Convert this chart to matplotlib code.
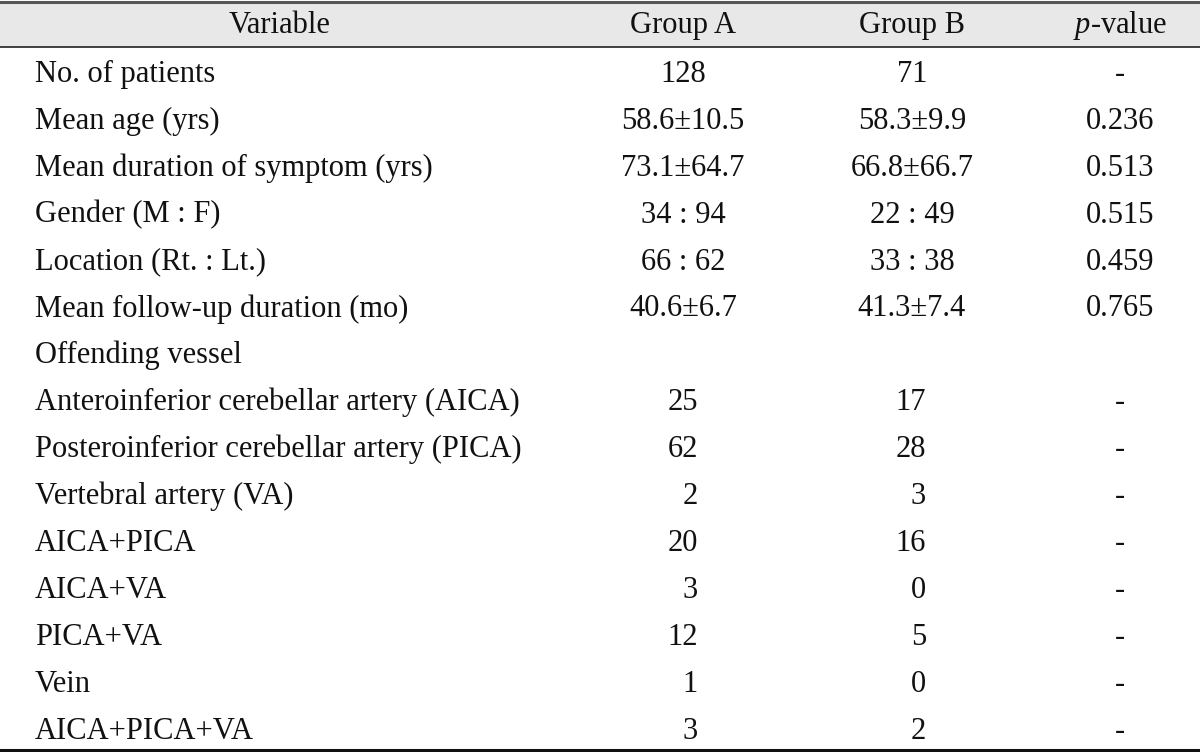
import matplotlib
matplotlib.use("Agg")
import matplotlib.pyplot as plt
from matplotlib.patches import Rectangle

header = ["Variable", "Group A", "Group B", "$p$-value"]
variables = ["No. of patients", "Mean age (yrs)", "Mean duration of symptom (yrs)",
             "Gender (M : F)", "Location (Rt. : Lt.)", "Mean follow-up duration (mo)",
             "Offending vessel",
             "Anteroinferior cerebellar artery (AICA)",
             "Posteroinferior cerebellar artery (PICA)",
             "Vertebral artery (VA)", "AICA+PICA", "AICA+VA", "PICA+VA", "Vein",
             "AICA+PICA+VA"]
group_a = ["128", "58.6±10.5", "73.1±64.7", "34 : 94", "66 : 62", "40.6±6.7", "",
           "25", "62", "2", "20", "3", "12", "1", "3"]
group_b = ["71", "58.3±9.9", "66.8±66.7", "22 : 49", "33 : 38", "41.3±7.4", "",
           "17", "28", "3", "16", "0", "5", "0", "2"]
p_values = ["-", "0.236", "0.513", "0.515", "0.459", "0.765", "",
            "-", "-", "-", "-", "-", "-", "-", "-"]
count_rows = [7, 8, 9, 10, 11, 12, 13, 14]

W, H = 1200, 752
fig = plt.figure(figsize=(12, 7.52), dpi=100)
ax = fig.add_axes([0, 0, 1, 1])
ax.set_xlim(0, W)
ax.set_ylim(H, 0)
ax.axis("off")

plt.rcParams["mathtext.fontset"] = "custom"
plt.rcParams["mathtext.it"] = "Liberation Serif:italic"
plt.rcParams["mathtext.rm"] = "Liberation Serif"

font = dict(family="Liberation Serif", fontsize=22, color="#111111")

# header band
ax.add_patch(Rectangle((0, 1), W, 46, facecolor="#e8e8e8", edgecolor="none"))
ax.plot([0, W], [1.5, 1.5], color="#555555", lw=2.2)
ax.plot([0, W], [47, 47], color="#222222", lw=1.2)
ax.plot([0, W], [750, 750], color="#111111", lw=2.2)

hy = 33
col_x = [280, 683, 912, 1120]
for x, t in zip(col_x, header):
    ax.text(x, hy, t, ha="center", va="baseline", **font)

y0, dy = 82, 46.9
for i, v in enumerate(variables):
    y = y0 + i * dy
    ax.text(35, y, v, ha="left", va="baseline", **font)
    if i in count_rows:
        ax.text(698, y, group_a[i], ha="right", va="baseline", **font)
        ax.text(926, y, group_b[i], ha="right", va="baseline", **font)
    else:
        ax.text(683, y, group_a[i], ha="center", va="baseline", **font)
        ax.text(912, y, group_b[i], ha="center", va="baseline", **font)
    ax.text(1120, y, p_values[i], ha="center", va="baseline", **font)

fig.savefig("out.png", dpi=100)
